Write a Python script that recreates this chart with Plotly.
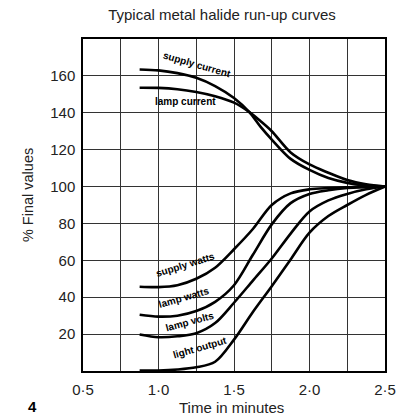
import plotly.graph_objects as go

# ---- data (minutes, % of final value) ----
t_main = [0.875, 1.0, 1.125, 1.25, 1.375, 1.5, 1.6, 1.675, 1.75, 1.875, 2.0, 2.125, 2.25, 2.375, 2.5]
supply_current = [163.5, 163.0, 161.5, 159.0, 154.5, 148.0, 140.5, 132.5, 125.5, 115.0, 109.0, 104.6, 102.0, 100.6, 100.0]
lamp_current = [153.6, 153.5, 152.8, 151.3, 149.0, 145.5, 140.5, 135.5, 130.0, 118.5, 112.0, 107.5, 103.5, 101.2, 100.0]

t_rise = [0.875, 1.0, 1.125, 1.25, 1.375, 1.5, 1.625, 1.75, 1.875, 2.0, 2.125, 2.25, 2.375, 2.5]
supply_watts = [45.7, 45.5, 46.5, 50.0, 56.0, 66.0, 77.0, 90.0, 96.3, 98.5, 99.2, 99.6, 99.85, 100.0]
lamp_watts = [30.5, 29.5, 30.0, 32.5, 37.5, 46.5, 63.0, 79.5, 91.0, 96.0, 98.0, 99.2, 99.7, 100.0]
lamp_volts = [19.8, 18.3, 18.8, 20.5, 26.0, 37.0, 49.0, 61.0, 74.5, 86.5, 92.5, 96.0, 98.5, 100.0]
light_output = [0.3, 0.3, 0.8, 2.0, 5.0, 17.0, 32.0, 46.0, 60.5, 75.0, 84.0, 90.0, 95.5, 100.0]

series_names = ["supply current", "lamp current", "supply watts", "lamp watts", "lamp volts", "light output"]

# label positions (data coords) and angles
label_x = [1.255, 1.182, 1.182, 1.169, 1.209, 1.275]
label_y = [166.0, 145.9, 57.5, 39.6, 26.6, 13.0]
label_angle = [16, 0, -17, -16, -15, -16]

x_tickvals = [0.5, 0.75, 1.0, 1.25, 1.5, 1.75, 2.0, 2.25, 2.5]
x_ticktext = ["0·5", "", "1·0", "", "1·5", "", "2·0", "", "2·5"]
y_tickvals = [20, 40, 60, 80, 100, 120, 140, 160]
y_ticktext = ["20", "40", "60", "80", "100", "120", "140", "160"]

fig = go.Figure()
line_style = dict(color="black", width=2.6, shape="spline", smoothing=0.9)
for xs, ys, nm in [
    (t_main, supply_current, series_names[0]),
    (t_main, lamp_current, series_names[1]),
    (t_rise, supply_watts, series_names[2]),
    (t_rise, lamp_watts, series_names[3]),
    (t_rise, lamp_volts, series_names[4]),
    (t_rise, light_output, series_names[5]),
]:
    fig.add_trace(go.Scatter(x=xs, y=ys, mode="lines", name=nm, line=line_style,
                             hoverinfo="skip", showlegend=False))

for nm, lx, ly, ang in zip(series_names, label_x, label_y, label_angle):
    fig.add_annotation(x=lx, y=ly, text=nm, showarrow=False, textangle=ang,
                       font=dict(family="Liberation Sans, Arial", size=10, color="black", weight="bold"))

fig.add_annotation(xref="paper", yref="paper", x=-0.166, y=-0.108, text="4", showarrow=False,
                   xanchor="center", yanchor="middle",
                   font=dict(family="Liberation Sans, Arial", size=15, color="black", weight="bold"))
fig.add_annotation(xref="paper", yref="paper", x=0.493, y=-0.111, text="Time in minutes",
                   showarrow=False, xanchor="center", yanchor="middle",
                   font=dict(family="Liberation Sans, Arial", size=15, color="#222222"))
fig.add_annotation(xref="paper", yref="paper", x=-0.182, y=0.53, text="% Final values",
                   showarrow=False, xanchor="center", yanchor="middle", textangle=-90,
                   font=dict(family="Liberation Sans, Arial", size=14.5, color="#222222"))

axis_font = dict(family="Liberation Sans, Arial", size=15, color="#222222")
fig.update_layout(
    width=405, height=417,
    margin=dict(l=83, r=20, t=39, b=46),
    paper_bgcolor="white", plot_bgcolor="white",
    title=dict(text="Typical metal halide run-up curves", x=0.548, xanchor="center",
               y=1 - 15 / 417, yanchor="middle", yref="container",
               font=dict(family="Liberation Sans, Arial", size=15, color="#222222")),
    xaxis=dict(range=[0.5, 2.5], tickvals=x_tickvals, ticktext=x_ticktext,
               showgrid=True, gridcolor="#333333", gridwidth=1,
               showline=True, linecolor="black", linewidth=1.5, mirror=True,
               ticks="", zeroline=False, tickfont=axis_font, ticklabelstandoff=4,
               automargin=False),
    yaxis=dict(range=[0, 180], tickvals=y_tickvals, ticktext=y_ticktext,
               showgrid=True, gridcolor="#333333", gridwidth=1,
               showline=True, linecolor="black", linewidth=1.5, mirror=True,
               ticks="", zeroline=False, tickfont=axis_font, ticklabelstandoff=3,
               automargin=False),
)

fig.write_html("out.html")
